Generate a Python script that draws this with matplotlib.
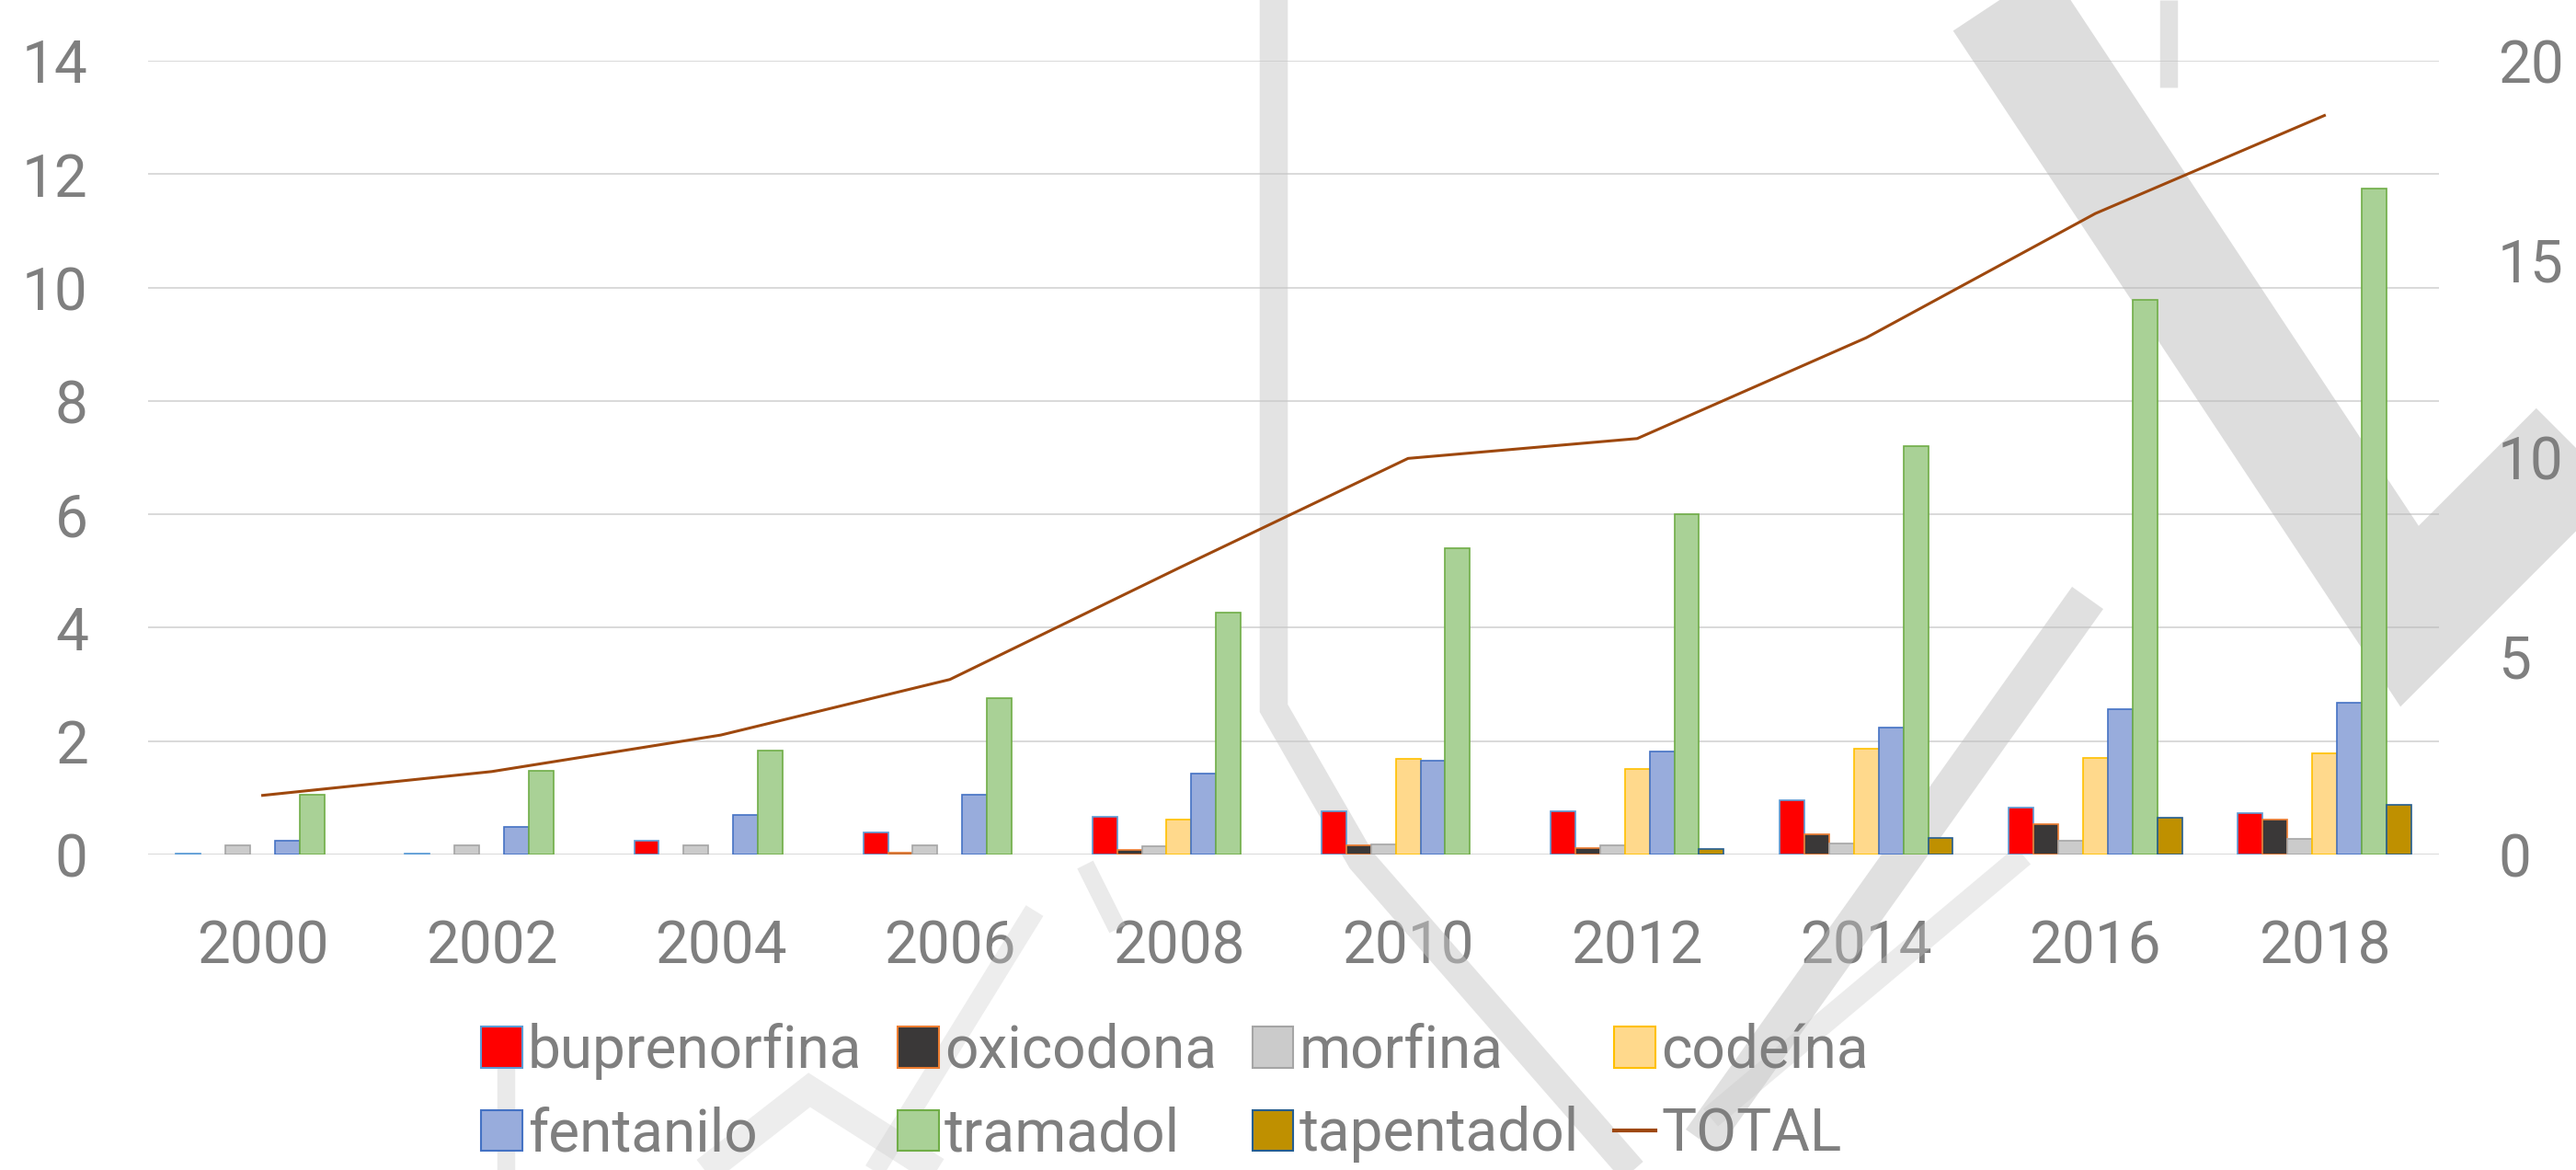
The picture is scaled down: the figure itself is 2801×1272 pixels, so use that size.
import numpy as np
import matplotlib.pyplot as plt
from matplotlib.patches import Patch
from matplotlib.lines import Line2D

years = ['2000', '2002', '2004', '2006', '2008', '2010', '2012', '2014', '2016', '2018']
buprenorfina = [0.02, 0.02, 0.25, 0.39, 0.67, 0.76, 0.77, 0.95, 0.82, 0.73]
oxicodona = [0.0, 0.0, 0.0, 0.03, 0.08, 0.16, 0.12, 0.36, 0.53, 0.61]
morfina = [0.17, 0.17, 0.17, 0.17, 0.15, 0.18, 0.17, 0.20, 0.25, 0.27]
codeina = [0.0, 0.0, 0.0, 0.0, 0.62, 1.69, 1.51, 1.86, 1.71, 1.79]
fentanilo = [0.24, 0.48, 0.70, 1.05, 1.43, 1.65, 1.82, 2.24, 2.57, 2.68]
tramadol = [1.05, 1.47, 1.84, 2.75, 4.27, 5.40, 6.00, 7.20, 9.78, 11.74]
tapentadol = [0.0, 0.0, 0.0, 0.0, 0.0, 0.0, 0.09, 0.30, 0.65, 0.88]
total = [1.49, 2.09, 3.01, 4.41, 7.22, 9.98, 10.48, 13.02, 16.15, 18.62]

series = [
    ('buprenorfina', buprenorfina, '#ff0000', '#5b9bd5'),
    ('oxicodona', oxicodona, '#3a3838', '#ed7d31'),
    ('morfina', morfina, '#cbcbcb', '#a5a5a5'),
    ('codeína', codeina, '#ffd98c', '#ffc000'),
    ('fentanilo', fentanilo, '#98acdc', '#4472c4'),
    ('tramadol', tramadol, '#a9d196', '#70ad47'),
    ('tapentadol', tapentadol, '#bf9000', '#255e91'),
]

txt = '#7f7f7f'
plt.rcParams['font.family'] = ['Roboto', 'DejaVu Sans']
plt.rcParams['font.size'] = 46

W, H = 2801, 1272
fig = plt.figure(figsize=(W / 100, H / 100), dpi=100)
ax = fig.add_axes([161 / W, 1 - 929 / H, (2652 - 161) / W, (929 - 66) / H])
ax.set_facecolor('none')

# watermark (rough copy of the background stamp), pixel coords of the picture
def band(pts, lw, col='#bdbdbd', a=0.5):
    xs = [p[0] / W for p in pts]
    ys = [1 - p[1] / H for p in pts]
    ax.add_line(Line2D(xs, ys, transform=fig.transFigure, lw=lw, color=col, alpha=a,
                       solid_capstyle='butt', solid_joinstyle='miter', clip_on=False, zorder=0.8))

band([(2150, -40), (2620, 670), (2840, 450)], 90, '#b5b5b5', 0.45)
band([(2358, 0), (2358, 95)], 14, '#c4c4c4', 0.5)
band([(1385, -10), (1385, 770), (1480, 935), (1790, 1290)], 22, '#c8c8c8', 0.5)
band([(2270, 650), (1850, 1240)], 30, '#bcbcbc', 0.45)
band([(2200, 930), (1860, 1215)], 18, '#c8c8c8', 0.35)
band([(1180, 940), (1215, 1010)], 14, '#cccccc', 0.4)
band([(1125, 990), (940, 1290)], 16, '#cccccc', 0.35)
band([(745, 1290), (880, 1185), (1045, 1290)], 22, '#cccccc', 0.35)
band([(550, 1160), (550, 1290)], 14, '#cccccc', 0.4)

x = np.arange(len(years))
bw = 0.108
for i, (name, vals, fc, ec) in enumerate(series):
    lws = [0 if v == 0 else 1.2 for v in vals]
    ax.bar(x + (i - 3) * bw, vals, width=bw, color=fc, edgecolor=ec, linewidth=lws,
           label=name, zorder=2)

ax.set_xlim(-0.5, len(years) - 0.5)
ax.set_ylim(0, 14)
ax.set_yticks(np.arange(0, 15, 2))
ax.set_xticks(x)
ax.set_xticklabels(years)
ax.grid(axis='y', color='#d9d9d9', linewidth=1.4, zorder=0.5)
ax.set_axisbelow(True)
for s in ax.spines.values():
    s.set_visible(False)
ax.tick_params(axis='y', length=0, pad=47, colors=txt)
ax.tick_params(axis='x', length=0, pad=50, colors=txt)

ax2 = ax.twinx()
ax2.plot(x, total, color='#9e480e', linewidth=2.2, label='TOTAL', zorder=3)
ax2.set_ylim(0, 20)
ax2.set_yticks(np.arange(0, 21, 5))
for s in ax2.spines.values():
    s.set_visible(False)
ax2.tick_params(axis='y', length=0, pad=46, colors=txt)

handles = [Patch(facecolor=fc, edgecolor=ec, linewidth=1.5, label=name)
           for name, vals, fc, ec in series]
handles.append(Line2D([], [], color='#9e480e', linewidth=3, label='TOTAL'))
# legend fills column by column, so reorder to read row by row
order = [0, 4, 1, 5, 2, 6, 3, 7]
handles = [handles[k] for k in order]
fig.legend(handles=handles, ncol=4, loc='center left',
           bbox_to_anchor=(523 / W, 1 - 1188 / H), frameon=False,
           handlelength=0.7, handleheight=0.7, handletextpad=0.1,
           columnspacing=0.6, labelspacing=0.45, borderpad=0, borderaxespad=0,
           labelcolor=txt)

plt.savefig('out.png', dpi=100)
